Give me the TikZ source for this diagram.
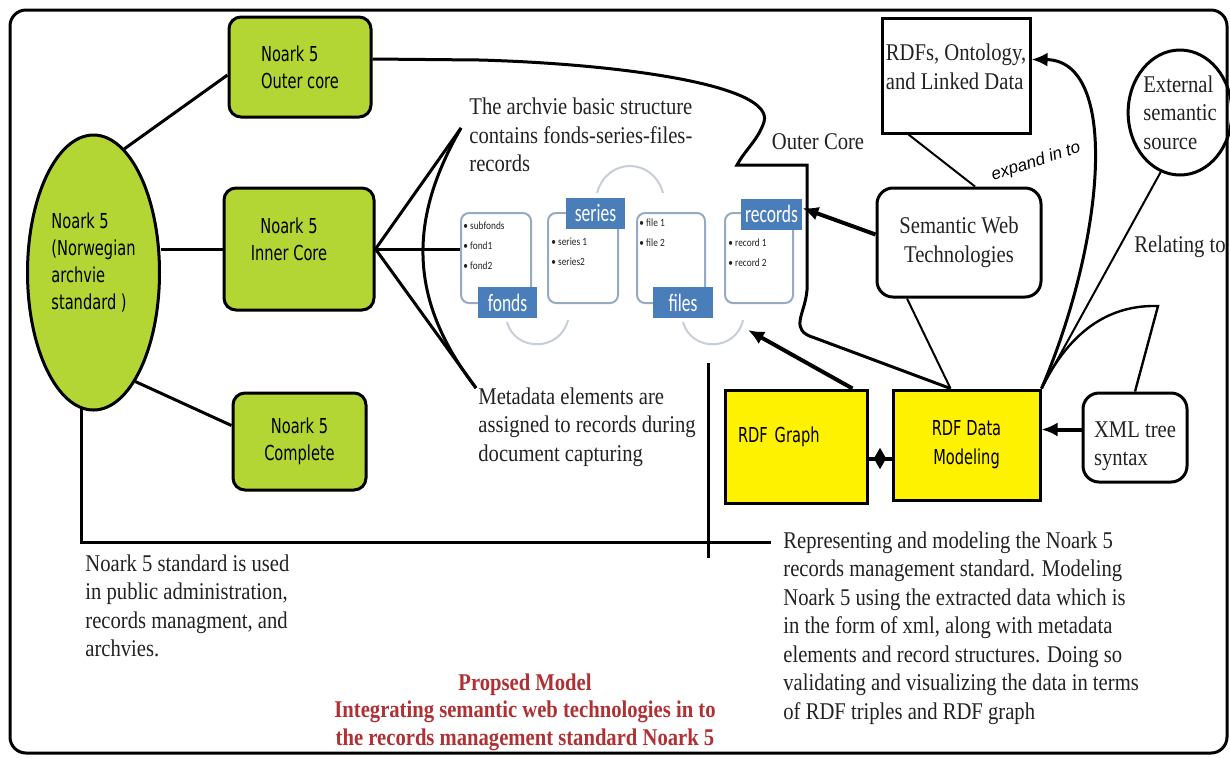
\documentclass[tikz,border=0pt]{standalone}
\usepackage{fontspec}
\setmainfont{Liberation Serif}[FakeStretch=0.86]
\newfontfamily\boxfont{DejaVu Sans}[FakeStretch=0.71]
\newfontfamily\smartfont{Carlito}[FakeStretch=0.7]
\newfontfamily\itemfont{Carlito}[FakeStretch=0.85]
\newfontfamily\tagfont{Liberation Sans}
\usetikzlibrary{arrows.meta,shapes.geometric}
\definecolor{lime}{RGB}{180,214,52}
\definecolor{hiyellow}{RGB}{255,242,0}
\definecolor{smartblue}{RGB}{74,126,187}
\definecolor{smartline}{RGB}{150,170,195}
\definecolor{arcgrey}{RGB}{200,206,214}
\definecolor{titlered}{RGB}{176,48,52}
\definecolor{ink}{RGB}{34,34,34}
\begin{document}
\begin{tikzpicture}[x=0.5pt, y=-0.5pt,
  serif/.style={font=\fontsize{12}{14.25}\selectfont, text=ink, align=left, inner sep=0pt},
  greenbox/.style={draw, line width=1.5pt, fill=lime, rounded corners=6pt, align=center, font=\boxfont\fontsize{10.3}{13.5}\selectfont, inner sep=0pt},
  yellowbox/.style={draw, line width=1.5pt, fill=hiyellow, font=\boxfont\fontsize{10.3}{14.5}\selectfont, inner sep=0pt},
  whitebox/.style={draw, line width=1.5pt, rounded corners=8pt, serif, align=center},
  panel/.style={draw=smartline, line width=1pt, rounded corners=4pt, minimum width=35pt, minimum height=45pt, inner sep=0pt},
  tag/.style={fill=smartblue, text=white, font=\smartfont\fontsize{12.5}{14}\selectfont, inner sep=0pt, minimum width=29.5pt, minimum height=15.5pt},
  items/.style={font=\itemfont\fontsize{5.5}{10}\selectfont, text=ink, align=left, inner sep=0pt, anchor=north west},
  conn/.style={line width=1.5pt},
  fine/.style={line width=1pt},
  arr/.style={line width=2pt, -{Latex[length=8pt,width=7pt]}},
  smartarc/.style={draw=arcgrey, line width=1pt}
]
\useasboundingbox (0,0) rectangle (1230,757);
\draw [line width=1.5pt, rounded corners=8pt] (10,10) rectangle (1227,753);

\node (ell) [ellipse, draw, line width=1.5pt, fill=lime, minimum width=66pt, minimum height=137.5pt, inner sep=0pt, align=left, font=\boxfont\fontsize{10.3}{13.5}\selectfont] at (93.5,272.5) {Noark 5\\(Norwegian\\archvie\\standard )\rule[-11.5pt]{0pt}{0pt}};
\node (outcore) [greenbox, minimum width=71pt, minimum height=50pt, align=left] at (300,67) {Noark 5\\Outer core};
\node (incore) [greenbox, minimum width=75pt, minimum height=61pt] at (299,249) {Noark 5\hspace*{10pt}\\Inner Core\hspace*{10pt}\rule[-9.5pt]{0pt}{0pt}};
\node (complete) [greenbox, minimum width=66.5pt, minimum height=48.5pt] at (299.5,441.5) {Noark 5\\Complete};

\node (pfonds) [panel] at (496,258) {};
\node (pseries) [panel] at (583,258) {};
\node (pfiles) [panel, minimum width=34pt] at (671,258) {};
\node (precords) [panel, minimum width=34pt] at (759,258) {};
\node (ifonds) [items] at (463,221) {\textbullet\ subfonds\\\textbullet\ fond1\\\textbullet\ fond2};
\node (iseries) [items] at (551,238) {\textbullet\ series 1\\\textbullet\ series2};
\node (ifiles) [items] at (639,218) {\textbullet\ file 1\\\textbullet\ file 2};
\node (irecords) [items] at (728,238) {\textbullet\ record 1\\\textbullet\ record 2};
\node (tfonds) [tag] at (507.5,302.5) {fonds};
\node (tseries) [tag] at (595.5,213) {series};
\node (tfiles) [tag, minimum width=30pt] at (683,302.5) {files};
\node (trecords) [tag, minimum width=30.5pt] at (771.5,214) {records};
\draw [smartarc] (507,322) .. controls (515,352) and (560,352) .. (568,320);
\draw [smartarc] (597,193) .. controls (607,157) and (653,157) .. (663,193);
\draw [smartarc] (683,322) .. controls (691,352) and (736,352) .. (743,320);

\node (archtext) [serif, anchor=west] at (469,135) {The archvie basic structure\\contains fonds-series-files-\\records};
\node (metatext) [serif, anchor=west] at (478,427) {Metadata elements are\\assigned to records during\\document capturing};
\node (outerlbl) [serif] at (818,142) {Outer Core};
\node (relating) [serif, anchor=east] at (1226,247) {Relating to};
\node (usage) [serif, anchor=west] at (85,606) {Noark 5 standard is used\\in public administration,\\records managment, and\\archvies.};
\node (rep) [serif, anchor=west] at (783,628) {Representing and modeling the Noark 5\\records management standard. Modeling\\Noark 5 using the extracted data which is\\in the form of xml, along with metadata\\elements and record structures. Doing so\\validating and visualizing the data in terms\\of RDF triples and RDF graph};
\node (title) [serif, align=center, text=titlered, font=\bfseries\fontsize{12}{13.75}\selectfont] at (525,712) {Propsed Model\\Integrating semantic web technologies in to\\the records management standard Noark 5};

\node (rdfs) [draw, line width=1.5pt, serif, minimum width=74pt, minimum height=57.5pt] at (956,75.5) {RDFs, Ontology,\\and Linked Data\rule[-9pt]{0pt}{0pt}};
\node (swt) [whitebox, minimum width=82pt, minimum height=54.5pt] at (959,242.5) {Semantic Web\\Technologies};
\node (ext) [ellipse, draw, line width=1.5pt, serif, minimum width=50pt, minimum height=62.5pt] at (1180,112.5) {External\\semantic\\source};
\node (graph) [yellowbox, minimum width=71pt, minimum height=56.5pt, text width=58pt, align=left] at (796,446.5) {RDF Graph\rule[-12pt]{0pt}{0pt}};
\node (dm) [yellowbox, minimum width=73.5pt, minimum height=55pt, align=center] at (966.5,445) {RDF Data\\Modeling};
\node (xml) [whitebox, align=left, minimum width=52pt, minimum height=44.5pt] at (1135,437.5) {\rule{0pt}{16.5pt}XML tree\\syntax};
\node (expand) [font=\tagfont\itshape\fontsize{8.5}{10}\selectfont, rotate=18, inner sep=0pt] at (1036,162) {expand in to};

\draw [conn] (ell.76) -- ([yshift=-4pt]outcore.west);
\draw [conn] (incore.west -| ell.east) -- (incore.west);
\draw [conn] (ell.-69) -- ([yshift=8pt]complete.west);
\coordinate (repin) at (771,542);
\draw [conn] (ell.-95) |- (repin);
\coordinate (cutA) at (708,363);
\coordinate (cutB) at (708,558);
\draw [conn] (cutA) -- (cutB);

\coordinate (tipA) at (461,128);
\coordinate (tipB) at (476,388);
\draw [conn] (tipA) -- (incore.east) -- (tipB);
\draw [conn] (incore.east) -- (incore.east -| pfonds.west);
\draw [conn] (tipA) .. controls (408,220) and (408,300) .. (tipB);

\draw [conn] ([yshift=4pt]outcore.east) -- (480,60) .. controls (620,64) and (775,85) .. (764,122) .. controls (758,140) and (745,150) .. (737,165) -- (807,165) -- (807,290) .. controls (805,315) and (788,330) .. (815,338) -- ([xshift=-8pt]dm.north);

\draw [arr] ([yshift=4pt]swt.west) -- ([yshift=3pt]trecords.east);
\draw [fine] ([xshift=14pt]rdfs.south west) -- ([xshift=8pt]swt.north);
\draw [fine] ([xshift=-26pt]swt.south) -- ([xshift=-8pt]dm.north);
\draw [line width=1.5pt, -{Latex[length=8pt,width=7pt]}] (dm.north east) .. controls (1105,240) and (1120,60) .. ([yshift=8pt]rdfs.east);
\draw [fine] (ext.-108) -- (dm.north east);
\draw [line width=1.2pt] (dm.north east) .. controls (1075,320) and (1120,305) .. (1158,306) -- (xml.north);
\coordinate (xmlin) at ([yshift=4pt]xml.west);
\draw [arr] (xmlin) -- (xmlin -| dm.east);
\coordinate (gdl) at ([yshift=-6pt]graph.east);
\draw [line width=2pt] (gdl) -- (gdl -| dm.west) node [midway, diamond, fill, inner sep=0pt, minimum width=7pt, minimum height=11.5pt] (gem) {};
\coordinate (arcpt) at (748,330);
\draw [arr] ([xshift=-8pt]graph.north east) -- (arcpt);
\end{tikzpicture}
\end{document}
